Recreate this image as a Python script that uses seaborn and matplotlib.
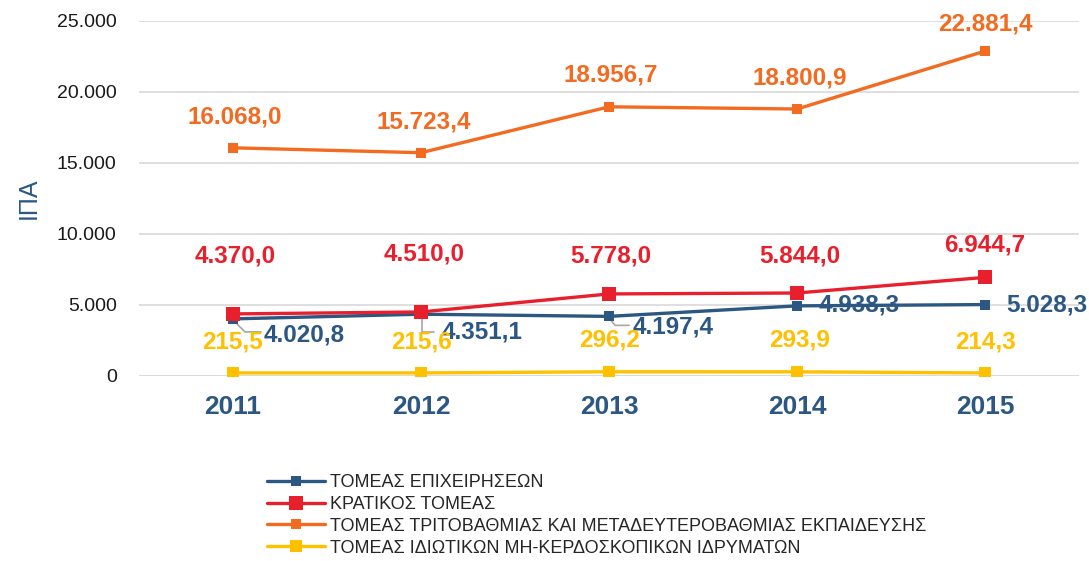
import numpy as np
import pandas as pd
import matplotlib
matplotlib.use("Agg")
import matplotlib.pyplot as plt
import seaborn as sns

# data
years = [2011, 2012, 2013, 2014, 2015]
series_names = [
    "ΤΟΜΕΑΣ ΕΠΙΧΕΙΡΗΣΕΩΝ",
    "ΚΡΑΤΙΚΟΣ ΤΟΜΕΑΣ",
    "ΤΟΜΕΑΣ ΤΡΙΤΟΒΑΘΜΙΑΣ ΚΑΙ ΜΕΤΑΔΕΥΤΕΡΟΒΑΘΜΙΑΣ ΕΚΠΑΙΔΕΥΣΗΣ",
    "ΤΟΜΕΑΣ ΙΔΙΩΤΙΚΩΝ ΜΗ-ΚΕΡΔΟΣΚΟΠΙΚΩΝ ΙΔΡΥΜΑΤΩΝ",
]
business = [4020.8, 4351.1, 4197.4, 4938.3, 5028.3]
government = [4370.0, 4510.0, 5778.0, 5844.0, 6944.7]
higher_edu = [16068.0, 15723.4, 18956.7, 18800.9, 22881.4]
private_np = [215.5, 215.6, 296.2, 293.9, 214.3]
y_ticks = [0, 5000, 10000, 15000, 20000, 25000]
y_tick_labels = ["0", "5.000", "10.000", "15.000", "20.000", "25.000"]

colors = ["#2C5782", "#E8202E", "#F26B21", "#FFC000"]
marker_sizes = [6.5, 10, 6.5, 9]

# label offsets in pixels (dx, dy up) for each point
offsets = [
    [(71, -16), (61, -18), (64, -11), (62, 1), (62, 0)],
    [(2, 58), (3, 58), (2, 38), (3, 37), (0, 32)],
    [(2, 31), (3, 31), (2, 32), (3, 31), (0, 27)],
    [(0, 31), (0, 31), (0, 32), (2, 32), (0, 31)],
]

# leader lines (pixel offsets from the point) for some business labels
leaders = {
    0: [(2, -3), (12, -13), (28, -13)],
    1: [(1, -5), (1, -18), (13, -18)],
    2: [(2, -4), (6, -9), (20, -9)],
}


def fmt(v):
    s = f"{v:,.1f}"
    return s.replace(",", "X").replace(".", ",").replace("X", ".")


def main():
    all_values = [business, government, higher_edu, private_np]
    frames = []
    for name, vals in zip(series_names, all_values):
        frames.append(pd.DataFrame({"year": years, "value": vals, "sector": name}))
    df = pd.concat(frames, ignore_index=True)

    sns.set_style("white")
    plt.rcParams["font.family"] = ["Liberation Sans", "DejaVu Sans"]

    fig = plt.figure(figsize=(10.89, 5.61), dpi=100)
    ax = fig.add_axes([0.1276, 0.3298, 0.8634, 0.6328])

    # draw yellow first, then blue, orange, red on top
    draw_order = [3, 0, 2, 1]
    handles = {}
    for i in draw_order:
        sub = df[df["sector"] == series_names[i]]
        sns.lineplot(data=sub, x="year", y="value", ax=ax, color=colors[i],
                     linewidth=2.4, marker="s", markersize=marker_sizes[i],
                     markeredgewidth=0, label=series_names[i], zorder=3 + i)
        handles[i] = ax.lines[-1]

    ax.set_xlim(2010.5, 2015.5)
    ax.set_ylim(0, 25000)
    ax.set_yticks(y_ticks)
    ax.set_yticklabels(y_tick_labels, fontsize=14, color="#1A1A1A")
    ax.set_xticks(years)
    ax.set_xticklabels([str(y) for y in years], fontsize=19, fontweight="bold",
                       color="#2C5782")
    ax.tick_params(axis="y", length=0, pad=16)
    ax.tick_params(axis="x", length=0, pad=14)
    ax.grid(axis="y", color="#D9D9D9", linewidth=1.2)
    ax.set_axisbelow(True)
    for sp in ax.spines.values():
        sp.set_visible(False)
    ax.axhline(0, color="#D9D9D9", linewidth=1.2, zorder=1)
    ax.set_xlabel("")
    ax.set_ylabel("ΙΠΑ", fontsize=18, color="#2C5782", labelpad=12)

    # data labels
    for i, vals in enumerate(all_values):
        for j, (x, v) in enumerate(zip(years, vals)):
            dx, dy = offsets[i][j]
            ax.annotate(fmt(v), (x, v), xytext=(dx, dy), textcoords="offset pixels",
                        ha="center", va="center", fontsize=17.5, fontweight="bold",
                        color=colors[i], zorder=10)

    # leader lines
    inv = ax.transData.inverted()
    for j, path in leaders.items():
        p = ax.transData.transform((years[j], business[j]))
        pts = inv.transform(p + np.array(path, dtype=float))
        ax.plot(pts[:, 0], pts[:, 1], color="#A6A6A6", lw=1.2, zorder=2.5)

    ax.get_legend().remove()
    fig.legend([handles[i] for i in range(4)], series_names,
               loc="upper left", bbox_to_anchor=(267 / 1089, 1 - 474 / 561),
               frameon=False, borderpad=0, borderaxespad=0, fontsize=13,
               handlelength=3.2, handletextpad=0.3, labelspacing=0.27)

    fig.savefig("out.png", dpi=100)


if __name__ == "__main__":
    main()
